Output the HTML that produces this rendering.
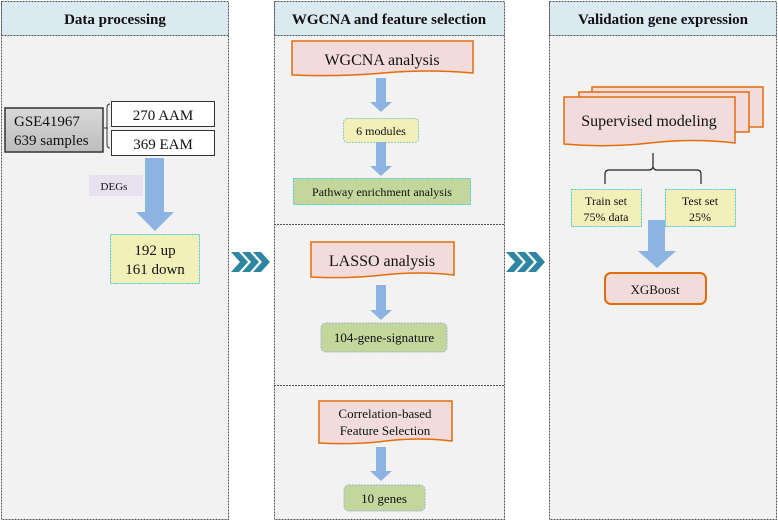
<!DOCTYPE html>
<html><head><meta charset="utf-8"><style>
body{margin:0;background:#fff;}
svg text{font-family:"Liberation Serif",serif;fill:#111;}
</style></head><body>
<svg width="778" height="521" viewBox="0 0 778 521" xmlns="http://www.w3.org/2000/svg">
<defs>
<linearGradient id="g1" x1="0" y1="0" x2="0" y2="1"><stop offset="0" stop-color="#d9d9d9"/><stop offset="1" stop-color="#bdbdbd"/></linearGradient>
<g id="chev"><path d="M0 0h8l9 10-9 10H0l9-10z" fill="#2e86a0"/></g>
</defs>
<!-- Panels -->
<g stroke="#555" stroke-dasharray="2,1" stroke-width="1">
<rect x="1.5" y="1.5" width="227" height="518" fill="#f2f2f2"/>
<rect x="1.5" y="1.5" width="227" height="34" fill="#dbe9f0"/>
<rect x="274.5" y="1.5" width="230" height="518" fill="#f2f2f2"/>
<rect x="274.5" y="1.5" width="230" height="34" fill="#dbe9f0"/>
<line x1="274" y1="224.5" x2="505" y2="224.5"/>
<line x1="274" y1="385.5" x2="505" y2="385.5"/>
<rect x="549.5" y="1.5" width="227" height="518" fill="#f2f2f2"/>
<rect x="549.5" y="1.5" width="227" height="34" fill="#dbe9f0"/>
</g>
<g font-weight="bold" font-size="15" text-anchor="middle">
<text x="115" y="24">Data processing</text>
<text x="389" y="24">WGCNA and feature selection</text>
<text x="663" y="24">Validation gene expression</text>
</g>
<!-- Panel 1 -->
<rect x="5" y="108" width="98" height="44" fill="url(#g1)" stroke="#333" stroke-width="1.5"/>
<text x="14" y="126" font-size="15">GSE41967</text>
<text x="14" y="145" font-size="15">639 samples</text>
<path d="M104 128h4M110 104q-3 0-3 4v36q0 4 3 4" fill="none" stroke="#333"/>
<rect x="111.5" y="101.5" width="103" height="25" fill="#fff" stroke="#333"/>
<rect x="111.5" y="130.5" width="103" height="25" fill="#fff" stroke="#333"/>
<text x="163" y="120" font-size="15" text-anchor="middle">270 AAM</text>
<text x="163" y="149" font-size="15" text-anchor="middle">369 EAM</text>
<rect x="89" y="175" width="54" height="21" fill="#e6e0ef"/>
<text x="114" y="190" font-size="11" text-anchor="middle">DEGs</text>
<path d="M145 158h19v54h10l-19 19-19-19h9z" fill="#8db3e2"/>
<rect x="110.5" y="234.5" width="89" height="49" fill="#f2f0b8" stroke="#4cc" stroke-dasharray="2,1"/>
<text x="155" y="255" font-size="15" text-anchor="middle">192 up</text>
<text x="155" y="274" font-size="15" text-anchor="middle">161 down</text>
<use href="#chev" x="231" y="252"/><use href="#chev" x="242" y="252"/><use href="#chev" x="253" y="252"/>
<use href="#chev" x="506" y="252"/><use href="#chev" x="517" y="252"/><use href="#chev" x="528" y="252"/>
<!-- Panel 2 -->
<path d="M292 41h181v32q-45-4-90 0t-91 2z" fill="#f2dcdb" stroke="#e46c0a" stroke-width="1.5"/>
<text x="382" y="65" font-size="16" text-anchor="middle">WGCNA analysis</text>
<path d="M376 78h10v24h6l-11 10-11-10h6z" fill="#8db3e2"/>
<rect x="343.5" y="118.5" width="75" height="24" rx="4" fill="#f2f0b8" stroke="#8cc" stroke-dasharray="2,1"/>
<text x="381" y="135" font-size="12" text-anchor="middle">6 modules</text>
<path d="M376 142h10v24h6l-11 10-11-10h6z" fill="#8db3e2"/>
<rect x="293.5" y="178.5" width="177" height="26" fill="#c3d69b" stroke="#4cc" stroke-dasharray="2,1"/>
<text x="382" y="196" font-size="12" text-anchor="middle">Pathway enrichment analysis</text>
<path d="M311 242h143v33q-35-4-71 0t-72 2z" fill="#f2dcdb" stroke="#e46c0a" stroke-width="1.5"/>
<text x="382" y="266" font-size="16" text-anchor="middle">LASSO analysis</text>
<path d="M376 285h10v25h6l-11 10-11-10h6z" fill="#8db3e2"/>
<rect x="321" y="323" width="126" height="29" rx="5" fill="#c3d69b" stroke="#9bc" stroke-dasharray="2,1"/>
<text x="384" y="342" font-size="13" text-anchor="middle">104-gene-signature</text>
<path d="M319 401h133v40q-33-4-66 0t-67 2z" fill="#f2dcdb" stroke="#e46c0a" stroke-width="1.5"/>
<text x="385" y="418" font-size="13" text-anchor="middle">Correlation-based</text>
<text x="385" y="435" font-size="13" text-anchor="middle">Feature Selection</text>
<path d="M376 447h10v24h6l-11 10-11-10h6z" fill="#8db3e2"/>
<rect x="344" y="485" width="81" height="26" rx="5" fill="#c3d69b" stroke="#9bc" stroke-dasharray="2,1"/>
<text x="384" y="503" font-size="13" text-anchor="middle">10 genes</text>
<!-- Panel 3 -->
<rect x="592" y="87" width="171" height="40" fill="#f2dcdb" stroke="#e46c0a" stroke-width="1.5"/>
<rect x="579" y="92" width="170" height="40" fill="#f2dcdb" stroke="#e46c0a" stroke-width="1.5"/>
<path d="M564 97h171v46q-42-5-85 0t-86 1z" fill="#f2dcdb" stroke="#e46c0a" stroke-width="1.5"/>
<text x="649" y="126" font-size="16" text-anchor="middle">Supervised modeling</text>
<path d="M605 184v-10q0-4 4-4h40q3 0 4-3 0-3 0-14 0 11 0 14 1 3 4 3h40q4 0 4 4v10" fill="none" stroke="#222" stroke-width="1.2"/>
<rect x="571.5" y="189.5" width="70" height="37" fill="#f2f0b8" stroke="#4cc" stroke-dasharray="2,1"/>
<text x="606" y="205" font-size="12" text-anchor="middle">Train set</text>
<text x="606" y="221" font-size="12" text-anchor="middle">75% data</text>
<rect x="665.5" y="189.5" width="70" height="37" fill="#f2f0b8" stroke="#4cc" stroke-dasharray="2,1"/>
<text x="700" y="205" font-size="12" text-anchor="middle">Test set</text>
<text x="700" y="221" font-size="12" text-anchor="middle">25%</text>
<path d="M648 220h17v31h11l-19 17-19-17h10z" fill="#8db3e2"/>
<rect x="605" y="273" width="101" height="31" rx="6" fill="#f2dcdb" stroke="#e46c0a" stroke-width="2"/>
<text x="655" y="294" font-size="13" text-anchor="middle">XGBoost</text>
</svg>
</body></html>
